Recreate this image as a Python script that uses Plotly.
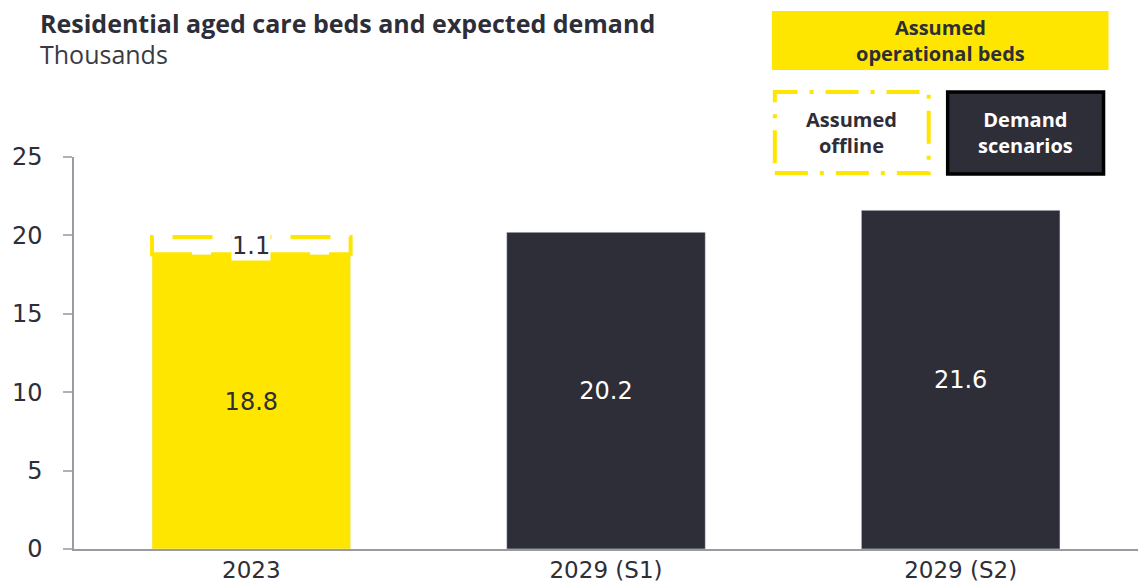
import plotly.graph_objects as go

categories = ["2023", "2029 (S1)", "2029 (S2)"]
operational = [18.8, None, None]
offline = [1.1, None, None]
demand = [None, 20.2, 21.6]

YELLOW = "#FFE600"
DARK = "#2E2E38"
TFONT = "Open Sans"
NFONT = "DejaVu Sans"
BW = 0.56

fig = go.Figure()
fig.add_bar(x=categories, y=operational, marker_color=YELLOW, width=BW,
            text=[f"{v}" if v is not None else "" for v in operational],
            textposition="inside", insidetextanchor="middle",
            textfont=dict(color=DARK, size=24, family=NFONT), name="Assumed operational beds")
fig.add_bar(x=categories, y=demand, marker_color=DARK, width=BW,
            text=[f"{v}" if v is not None else "" for v in demand],
            textposition="inside", insidetextanchor="middle",
            textfont=dict(color="white", size=24, family=NFONT), name="Demand scenarios")

# offline dashed box stacked on the operational bar
i0 = 0
fig.add_shape(type="rect", xref="x", yref="y",
              x0=i0 - BW / 2, x1=i0 + BW / 2,
              y0=operational[0], y1=operational[0] + offline[0],
              line=dict(color=YELLOW, width=4, dash="40px,19px"), fillcolor="white", layer="above")
fig.add_annotation(x=i0, y=operational[0] + offline[0] / 2, text=f"{offline[0]}",
                   xanchor="center", yanchor="middle",
                   showarrow=False, bgcolor="white", font=dict(color=DARK, size=24, family=NFONT),
                   borderpad=0)

# legend boxes (paper coords)
def px2x(px):
    return (px - 73.5) / 1065
def py2y(py):
    return (549 - py) / 392

def legend_text(x0, x1, y0, y1, text, color):
    fig.add_annotation(xref="paper", yref="paper", x=(px2x(x0) + px2x(x1)) / 2,
                       y=(py2y(y0) + py2y(y1)) / 2, xanchor="center", yanchor="middle",
                       align="center", text=text, showarrow=False,
                       font=dict(color=color, size=20, family=TFONT, weight="bold"))

fig.add_shape(type="rect", xref="paper", yref="paper", x0=px2x(772), x1=px2x(1109),
              y0=py2y(70), y1=py2y(11), fillcolor=YELLOW, line=dict(width=0))
legend_text(772, 1109, 70, 11, "Assumed<br>operational beds", DARK)
fig.add_shape(type="rect", xref="paper", yref="paper", x0=px2x(775), x1=px2x(929),
              y0=py2y(173), y1=py2y(92), fillcolor="white",
              line=dict(color=YELLOW, width=4, dash="33px,12px,4px,12px"))
legend_text(775, 929, 173, 92, "Assumed<br>offline", DARK)
fig.add_shape(type="rect", xref="paper", yref="paper", x0=px2x(948), x1=px2x(1104),
              y0=py2y(174), y1=py2y(92), fillcolor=DARK,
              line=dict(color="black", width=3.5))
legend_text(948, 1104, 174, 92, "Demand<br>scenarios", "white")

# title
fig.add_annotation(xref="paper", yref="paper", x=px2x(37), y=py2y(4), xanchor="left", yanchor="top",
                   text="Residential aged care beds and expected demand", showarrow=False,
                   font=dict(color=DARK, size=25, family=TFONT, weight="bold"))
fig.add_annotation(xref="paper", yref="paper", x=px2x(37), y=py2y(35), xanchor="left", yanchor="top",
                   text="Thousands", showarrow=False,
                   font=dict(color="#3a3a44", size=25, family=TFONT))

fig.update_layout(
    width=1145, height=588, barmode="overlay", showlegend=False,
    plot_bgcolor="white", paper_bgcolor="white",
    margin=dict(l=73.5, r=6.5, t=157, b=39),
    font=dict(family=NFONT, color=DARK),
    uniformtext=dict(minsize=10, mode="show"),
)
fig.update_xaxes(range=[-0.5, 2.5], showline=True, linecolor="#9a9aa2", linewidth=1.5,
                 ticks="", ticklabelstandoff=0, automargin=False,
                 tickfont=dict(size=23, family=NFONT, color=DARK), showgrid=False)
fig.update_yaxes(range=[0, 25], dtick=5, showline=True, linecolor="#9a9aa2", linewidth=1.5,
                 ticks="outside", ticklen=9, tickcolor="#b0b0b8", tickwidth=1.5,
                 ticklabelstandoff=16, automargin=False,
                 tickfont=dict(size=24, family=NFONT, color=DARK), showgrid=False, zeroline=False)

fig.write_html("out.html")
